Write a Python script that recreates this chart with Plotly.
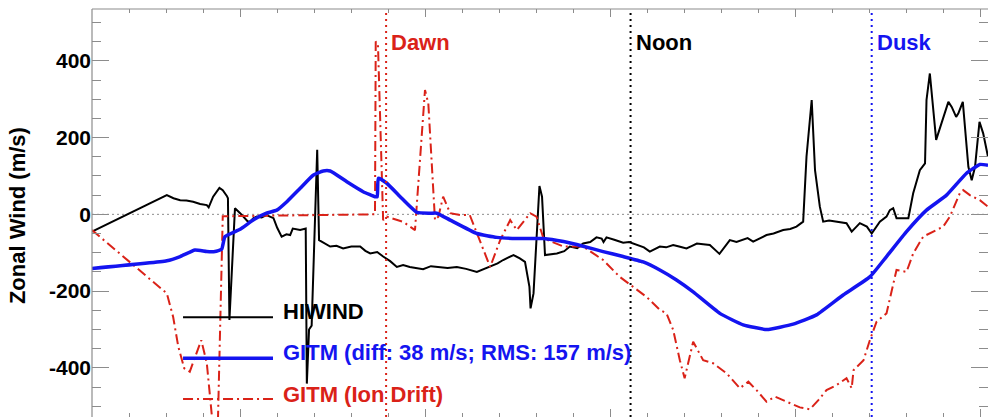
import plotly.graph_objects as go

# ---------------- data ----------------
# x: hours (arbitrary time axis, labels not shown), y: zonal wind (m/s)
hiwind_x = [0.00, 2.02, 2.20, 2.38, 2.55, 2.73, 2.92, 3.10, 3.15, 3.27, 3.44, 3.53, 3.64, 3.67, 3.71, 3.86, 4.00,
            4.13, 4.20, 4.27, 4.36, 4.45, 4.58, 4.71, 4.80, 4.90, 5.00, 5.12, 5.25, 5.35, 5.42, 5.62, 5.77, 5.80,
            5.86, 5.93, 6.08, 6.13,
            6.43, 6.60, 6.78, 7.00, 7.24, 7.38, 7.51, 7.70, 7.86, 8.05, 8.23, 8.40, 8.58, 8.75, 8.94, 9.15, 9.40,
            9.60, 9.85, 10.10, 10.39, 10.55, 10.75, 10.95, 11.10, 11.25, 11.38,
            11.55, 11.69, 11.81, 11.84, 11.92, 12.08, 12.15, 12.23, 12.55, 12.75, 12.90, 13.10, 13.26, 13.45,
            13.62, 13.76, 13.81, 13.89, 14.10, 14.34, 14.50, 14.70, 14.90, 15.06, 15.20, 15.33, 15.50, 15.69,
            15.85, 16.05, 16.20, 16.33, 16.50, 16.68, 16.94, 17.05, 17.22, 17.40, 17.58, 17.70,
            17.85, 18.00, 18.21, 18.40, 18.66, 18.85, 19.02, 19.20, 19.29, 19.43, 19.52, 19.65, 19.74, 19.90,
            20.10, 20.37, 20.51, 20.73, 20.92, 21.05, 21.27, 21.45, 21.54, 21.63, 21.72, 22.04, 22.17, 22.35,
            22.49, 22.53, 22.62, 22.79, 23.12, 23.21, 23.33, 23.39, 23.51, 23.66, 23.75, 23.84, 23.96, 24.06,
            24.19]
hiwind_y = [-45, 50, 42, 37, 36, 33, 27, 24, 18, 46, 69, 63, 48, 42, -275, 16, 3,
            -10, -18, -19, -10, -6, -8, -2, -6, -10, -35, -58, -52, -54, -37, -41, -37, -441,
            -300, -290, 168, -67,
            -84, -82, -89, -84, -84, -95, -102, -98, -110, -122, -137, -132, -137, -140, -143, -135, -137,
            -140, -137, -142, -150, -144, -137, -128, -119, -112, -106,
            -115, -124, -189, -245, -206, 74, 46, -106, -102, -96, -84, -88, -76, -72,
            -60, -63, -72, -60, -66, -74, -72, -80, -86, -97, -90, -84, -86, -80,
            -84, -89, -82, -76, -78, -80, -103, -88, -67, -72, -67, -62,
            -71, -64, -54, -50, -41, -38, -32, -19, 150, 298, 115, 20, -19, -16,
            -19, -23, -45, -23, -32, -50, -19, -6, 11, 16, -10, -10, 55, 115,
            133, 298, 367, 194, 293, 280, 254, 263, 293, 124, 89, 124, 241, 211,
            150]

gitm_x = [0.00, 2.02, 2.38, 2.78, 3.10, 3.32, 3.50, 3.59, 4.00, 4.35, 4.71, 4.99, 5.26, 5.62, 5.97,
          6.24, 6.43, 6.88, 7.32, 7.64, 7.70, 7.73, 7.96, 8.32, 8.77, 9.13, 9.31, 9.67, 10.39, 10.93,
          11.47, 12.19, 12.73, 13.26, 13.80, 14.34, 14.88, 15.33, 15.78, 16.23, 16.95, 17.58, 18.22,
          18.93, 19.56, 20.28, 21.00, 21.45, 21.99, 22.53, 23.07, 23.61, 23.97, 24.19]
gitm_y = [-141, -121, -110, -93, -97, -97, -91, -58, -39, -15, 3, 11, 33, 68, 102,
          113, 113, 85, 59, 46, 46, 94, 81, 46, 5, 3, 3, -15, -50, -60,
          -63, -63, -71, -83, -97, -110, -124, -145, -171, -202, -258, -288, -300,
          -286, -262, -210, -163, -110, -45, 11, 50, 107, 130, 128]

ion_x = [0.00, 2.02, 2.19, 2.33, 2.49, 2.64, 2.82, 2.95, 3.10, 3.23, 3.38, 3.53, 7.64, 7.66, 7.72,
         7.86, 7.96, 8.23, 8.41, 8.72, 8.99, 9.08, 9.26, 9.35, 9.48, 9.67, 9.94, 10.20, 10.39,
         10.75, 11.02, 11.29, 11.47, 11.83, 12.00, 12.19, 12.73, 13.26, 13.80, 14.25, 14.61, 14.97,
         15.33, 15.51, 15.69, 15.87, 16.00, 16.23, 16.50, 16.77, 17.13, 17.49, 17.72, 17.94, 18.21,
         18.44, 18.75, 19.11, 19.38, 19.61, 19.83, 20.10, 20.37, 20.51, 20.56, 20.83, 21.00, 21.18,
         21.45, 21.63, 21.72, 21.99, 22.17, 22.44, 22.98, 23.16, 23.43, 23.52, 23.70, 23.97, 24.19]
ion_y = [-41, -206, -267, -345, -401, -410, -362, -328, -388, -519, -620, -5, 0, 450, 445,
         -15, -6, -15, -20, -41, 324, 289, -15, -6, 46, 3, -2, -2, -50,
         -137, -67, -15, -41, 3, -6, -63, -84, -84, -119, -163, -189, -215,
         -249, -258, -301, -380, -427, -332, -380, -388, -414, -453, -436, -458, -488,
         -475, -488, -503, -508, -484, -458, -445, -427, -453, -406, -380, -328, -280,
         -258, -180, -145, -150, -102, -58, -32, -6, 55, 63, 50, 37, 20]

markers_x = [7.94, 14.54, 21.05]
markers_label = ["Dawn", "Noon", "Dusk"]

legend_labels = ["HIWIND", "GITM (diff: 38 m/s; RMS: 157 m/s)", "GITM (Ion Drift)"]

y_ticks = [-400, -200, 0, 200, 400]
y_ticktext = ["-400", "-200", "0", "200", "400"]
x_major = [4, 9, 14, 19, 24]

# ---------------- styles ----------------
BLACK = "#000000"
BLUE = "#1414f0"
RED = "#da2218"
GRAY = "#8c8c8c"
FONT = "Liberation Sans, Arial, sans-serif"
marker_colors = [RED, BLACK, BLUE]
RED_DASH = "10px,4px,2px,4px"

fig = go.Figure()
fig.add_trace(go.Scatter(x=hiwind_x, y=hiwind_y, mode="lines",
                         line=dict(color=BLACK, width=2), showlegend=False))
fig.add_trace(go.Scatter(x=ion_x, y=ion_y, mode="lines",
                         line=dict(color=RED, width=2, dash=RED_DASH), showlegend=False))
fig.add_trace(go.Scatter(x=gitm_x, y=gitm_y, mode="lines",
                         line=dict(color=BLUE, width=3.5, shape="spline", smoothing=0.4),
                         showlegend=False))

shapes = []
# zero line
shapes.append(dict(type="line", xref="paper", yref="y", x0=0, x1=1, y0=0, y1=0,
                   line=dict(color=GRAY, width=1, dash="2px,3px"), layer="below"))
# dawn / noon / dusk
for xv, c in zip(markers_x, marker_colors):
    shapes.append(dict(type="line", xref="x", yref="paper", x0=xv, x1=xv, y0=0, y1=1,
                       line=dict(color=c, width=2, dash="2px,4px")))
# borders (top, left)
shapes.append(dict(type="line", xref="paper", yref="paper", x0=0, x1=1, y0=1, y1=1,
                   line=dict(color=GRAY, width=1.2)))
shapes.append(dict(type="line", xref="paper", yref="paper", x0=0, x1=0, y0=0, y1=1,
                   line=dict(color=GRAY, width=1.2)))
# legend sample lines
leg_y = [0.2444, 0.1439, 0.0441]
leg_styles = [dict(color=BLACK, width=2), dict(color=BLUE, width=3.5),
              dict(color=RED, width=2, dash=RED_DASH)]
for yy, st in zip(leg_y, leg_styles):
    shapes.append(dict(type="line", xref="paper", yref="paper", x0=0.1016, x1=0.202,
                       y0=yy, y1=yy, line=st))

annotations = []
for xv, lab, c in zip(markers_x, markers_label, marker_colors):
    annotations.append(dict(x=xv, y=0.9167, xref="x", yref="paper", text=lab, showarrow=False,
                            xanchor="left", yanchor="middle", xshift=3,
                            font=dict(family=FONT, size=22, color=c, weight="bold")))
leg_text_y = [0.258, 0.158, 0.056]
leg_colors = [BLACK, BLUE, RED]
for yy, lab, c in zip(leg_text_y, legend_labels, leg_colors):
    annotations.append(dict(x=0.211, y=yy, xref="paper", yref="paper", text=lab, showarrow=False,
                            xanchor="left", yanchor="middle",
                            font=dict(family=FONT, size=22, color=c, weight="bold")))
annotations.append(dict(x=-0.083, y=0.494, xref="paper", yref="paper", text="Zonal Wind (m/s)",
                        showarrow=False, textangle=-90, xanchor="center", yanchor="middle",
                        font=dict(family=FONT, size=22, color=BLACK, weight="bold")))

fig.update_layout(
    width=988, height=417,
    margin=dict(l=92, r=0, t=9, b=0),
    paper_bgcolor="white", plot_bgcolor="white",
    showlegend=False,
    shapes=shapes, annotations=annotations,
    xaxis=dict(range=[0, 24.19], showgrid=False, zeroline=False, showline=False,
               tickmode="array", tickvals=x_major, showticklabels=False,
               ticks="inside", ticklen=8, tickwidth=1, tickcolor=GRAY, mirror="ticks",
               minor=dict(tickmode="linear", tick0=0, dtick=1, ticks="inside", ticklen=4,
                          tickcolor=GRAY, showgrid=False)),
    yaxis=dict(range=[-528, 535], showgrid=False, zeroline=False, showline=False,
               tickmode="array", tickvals=y_ticks, ticktext=y_ticktext,
               ticks="inside", ticklen=17, tickwidth=1.2, tickcolor=GRAY, mirror="ticks",
               tickfont=dict(family=FONT, size=21, color=BLACK, weight="bold"),
               minor=dict(tickmode="linear", tick0=0, dtick=50, ticks="inside", ticklen=9,
                          tickcolor=GRAY, showgrid=False)),
)

fig.write_html("out.html")
